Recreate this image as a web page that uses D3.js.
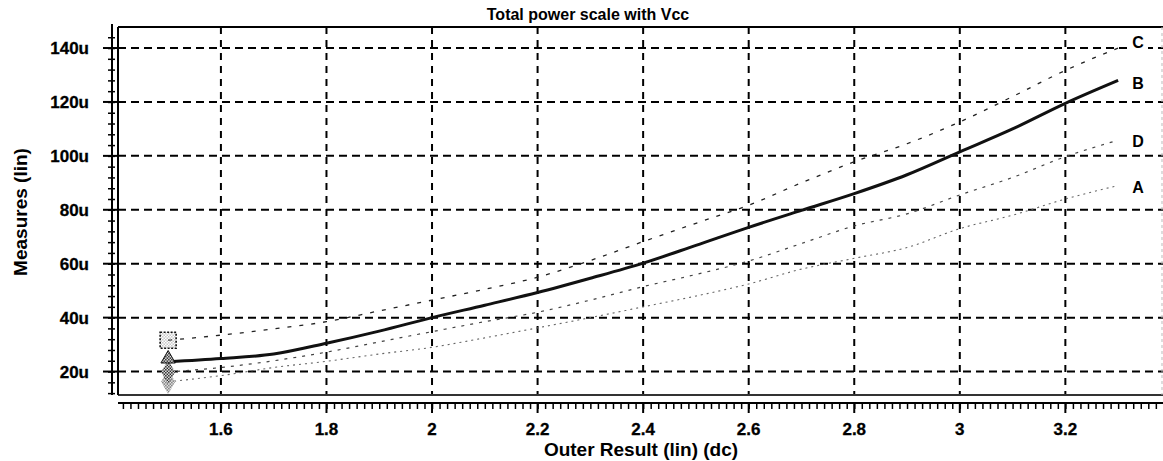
<!DOCTYPE html>
<html><head><meta charset="utf-8">
<script src="https://cdn.jsdelivr.net/npm/d3@7"></script>
<style>
html,body{margin:0;padding:0;background:#fff;}
svg{display:block;font-family:"Liberation Sans",Arial,Helvetica,sans-serif;}
</style></head>
<body>
<svg id="c" width="1163" height="461"></svg>
<script>
const xVals = [1.5,1.6,1.7,1.8,1.9,2.0,2.1,2.2,2.3,2.4,2.5,2.6,2.7,2.8,2.9,3.0,3.1,3.2,3.3];
const seriesA = [16.2,18.5,21.5,23.8,26.5,29,32.5,36.2,40,44,48,52.5,58,62,66,73,78,84,89];
const seriesB = [23.6,24.8,26.5,30.5,35,40,44.6,49.3,54.6,60.2,66.8,73.5,79.8,86,93,101.5,110,119.5,128];
const seriesC = [31.6,33.5,35.8,38.5,42.5,46.5,50.5,55,61.2,68.2,75,81.7,90,97.8,104.5,112.6,122,131.7,140];
const seriesD = [19.8,21.5,24,27.2,31,34.8,38.5,42,46.5,51.5,56,61,67.5,74,78.5,85.5,92,99.7,105.8];
const seriesNames = ["C","B","D","A"];
const xTicks = [1.6,1.8,2.0,2.2,2.4,2.6,2.8,3.0,3.2];
const xTickLabels = ["1.6","1.8","2","2.2","2.4","2.6","2.8","3","3.2"];
const yTicks = [20,40,60,80,100,120,140];
const yTickLabels = ["20u","40u","60u","80u","100u","120u","140u"];
const title = "Total power scale with Vcc";
const xTitle = "Outer Result (lin) (dc)";
const yTitle = "Measures (lin)";

const svg = d3.select("#c");
const L = 118, R = 1163, T = 27, B = 395;
const x = d3.scaleLinear().domain([1.405, 3.385]).range([L, R]);
const y = d3.scaleLinear().domain([11.3, 147.8]).range([B, T]);

const defs = svg.append("defs");
function checker(id, col){
  const p = defs.append("pattern").attr("id", id).attr("width",3).attr("height",3).attr("patternUnits","userSpaceOnUse");
  p.append("rect").attr("width",3).attr("height",3).attr("fill","#fff");
  p.append("rect").attr("width",1.5).attr("height",1.5).attr("fill",col);
  p.append("rect").attr("x",1.5).attr("y",1.5).attr("width",1.5).attr("height",1.5).attr("fill",col);
}
checker("chkDark","#111");
checker("chkGrey","#666");

// grid
const grid = svg.append("g");
grid.selectAll("line.h").data(yTicks).join("line")
  .attr("x1", L).attr("x2", R).attr("y1", d=>y(d)).attr("y2", d=>y(d))
  .attr("stroke","#000").attr("stroke-width",2).attr("stroke-dasharray","8,5");
grid.selectAll("line.v").data(xTicks).join("line")
  .attr("x1", d=>x(d)).attr("x2", d=>x(d)).attr("y1", T).attr("y2", B)
  .attr("stroke","#000").attr("stroke-width",2).attr("stroke-dasharray","7,6");

// frame
svg.append("line").attr("x1",L).attr("x2",R).attr("y1",T).attr("y2",T).attr("stroke","#000").attr("stroke-width",2);
svg.append("line").attr("x1",L).attr("x2",R).attr("y1",B).attr("y2",B).attr("stroke","#333").attr("stroke-width",2);
svg.append("line").attr("x1",L).attr("x2",L).attr("y1",T).attr("y2",B).attr("stroke","#000").attr("stroke-width",2);
svg.append("line").attr("x1",R-1).attr("x2",R-1).attr("y1",T).attr("y2",B).attr("stroke","#bbb").attr("stroke-width",1).attr("stroke-dasharray","3,3");

// y axis ruler
const yAx = d3.axisLeft(y).tickValues(d3.range(12, 148, 4)).tickSize(5).tickFormat("");
const gy = svg.append("g").attr("transform","translate(112,0)").call(yAx);
gy.select(".domain").attr("d", `M0,${T-3}V${B}`).attr("stroke-width",2);
gy.selectAll(".tick line").attr("x2",-4).attr("x1",3).attr("stroke-width",1.5);
svg.append("g").selectAll("line").data(yTicks).join("line")
  .attr("x1",103).attr("x2",118).attr("y1",d=>y(d)).attr("y2",d=>y(d)).attr("stroke","#000").attr("stroke-width",2);
svg.append("g").selectAll("text").data(yTicks).join("text")
  .attr("x",89).attr("y",d=>y(d)).attr("dy","0.36em").attr("text-anchor","end")
  .attr("font-size",17).attr("font-weight","bold").attr("stroke","#000").attr("stroke-width",0.3)
  .text((d,i)=>yTickLabels[i]);

// x axis ruler
const xAx = d3.axisBottom(x).tickValues(d3.range(0, 140).map(i=>1.4 + i*0.2/14).filter(v=>v>=1.405 && v<=3.385)).tickSize(6).tickFormat("");
const gx = svg.append("g").attr("transform","translate(0,403)").call(xAx);
gx.select(".domain").attr("d", `M${L},0H${R}`).attr("stroke-width",2);
gx.selectAll(".tick line").attr("stroke-width",1.5);
svg.append("g").selectAll("line").data(xTicks).join("line")
  .attr("x1",d=>x(d)).attr("x2",d=>x(d)).attr("y1",403).attr("y2",413).attr("stroke","#000").attr("stroke-width",2);
svg.append("g").selectAll("text").data(xTicks).join("text")
  .attr("x",d=>x(d)).attr("y",435).attr("text-anchor","middle")
  .attr("font-size",17).attr("font-weight","bold").attr("stroke","#000").attr("stroke-width",0.3)
  .text((d,i)=>xTickLabels[i]);

// titles
svg.append("text").attr("x",588).attr("y",20).attr("text-anchor","middle").attr("font-size",16).attr("font-weight","bold").text(title);
svg.append("text").attr("x",641).attr("y",456).attr("text-anchor","middle").attr("font-size",19).attr("font-weight","bold").text(xTitle);
svg.append("text").attr("transform","translate(27,212) rotate(-90)").attr("text-anchor","middle").attr("font-size",19).attr("font-weight","bold").text(yTitle);

// series
const series = [
  {name:"C", vals:seriesC, stroke:"#222", w:1.3, dash:"4,8"},
  {name:"B", vals:seriesB, stroke:"#111", w:3, dash:null},
  {name:"D", vals:seriesD, stroke:"#444", w:1.2, dash:"3,6"},
  {name:"A", vals:seriesA, stroke:"#666", w:1.1, dash:"2,4"}
];
const line = d3.line().x(d=>x(d[0])).y(d=>y(d[1])).curve(d3.curveMonotoneX);
svg.append("g").selectAll("path").data(series).join("path")
  .attr("d", s=>line(xVals.map((v,i)=>[v,s.vals[i]])))
  .attr("fill","none").attr("stroke",s=>s.stroke).attr("stroke-width",s=>s.w)
  .attr("stroke-dasharray",s=>s.dash);

// markers at first point
const mk = svg.append("g");
const x0 = x(xVals[0]);
mk.append("rect").attr("x",x0-8).attr("y",y(seriesC[0])-8).attr("width",16).attr("height",16)
  .attr("fill","url(#chkGrey)").attr("fill-opacity",0.35).attr("stroke","#111").attr("stroke-width",1.6).attr("stroke-dasharray","2,1.5");
mk.append("path").attr("d", d3.symbol(d3.symbolDiamond, 170)())
  .attr("transform",`translate(${x0},${y(seriesA[0])})`).attr("fill","url(#chkGrey)");
mk.append("path").attr("d", d3.symbol(d3.symbolDiamond, 170)())
  .attr("transform",`translate(${x0},${y(seriesD[0])})`).attr("fill","url(#chkDark)");
mk.append("path").attr("d", d3.symbol(d3.symbolTriangle, 90)())
  .attr("transform",`translate(${x0},${y(seriesB[0])-3})`).attr("fill","url(#chkDark)").attr("stroke","#111").attr("stroke-width",1);

// end labels
const last = xVals.length-1;
const lab = svg.append("g");
const labelY = {C:y(seriesC[last])-6, B:y(seriesB[last])+3, D:y(seriesD[last])+1, A:y(seriesA[last])+2};
series.forEach(s=>{
  const ly = labelY[s.name];
  lab.append("rect").attr("x",1128).attr("y",ly-10).attr("width",20).attr("height",20).attr("fill","#fff");
  lab.append("text").attr("x",1138).attr("y",ly).attr("dy","0.36em").attr("text-anchor","middle")
    .attr("font-size",16).attr("font-weight","bold").text(s.name);
});
</script>
</body></html>
